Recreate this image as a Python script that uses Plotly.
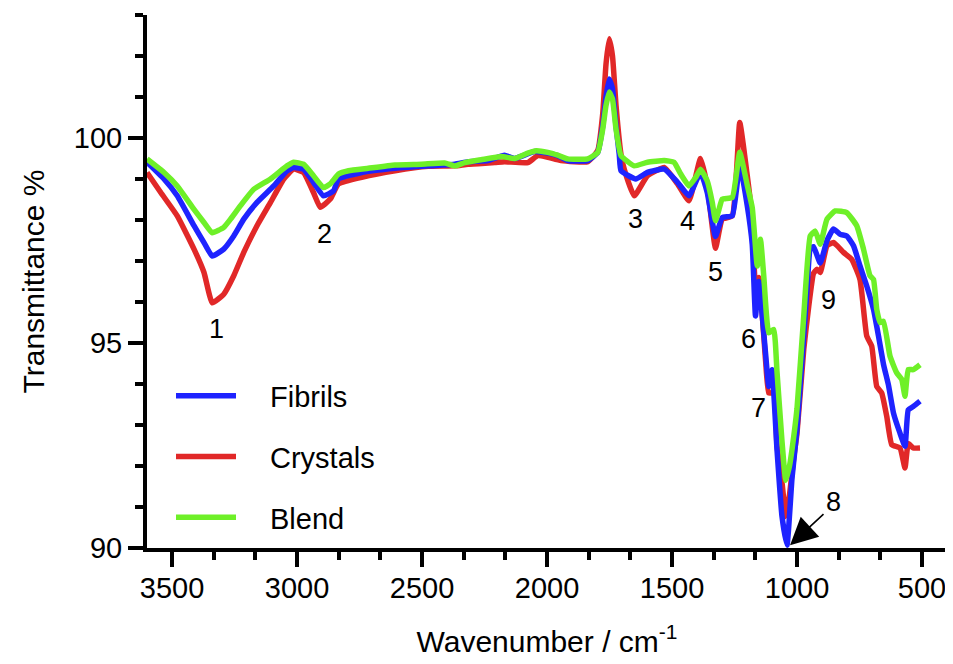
import plotly.graph_objects as go

# ---- data ----
wn_fibrils = [3600, 3532, 3479, 3412, 3372, 3339, 3293, 3253, 3213, 3160, 3093, 3040, 3014, 2974, 2934, 2894,
              2854, 2834, 2741, 2608, 2475, 2369, 2316, 2236, 2170, 2130, 2050, 1997, 1957, 1917, 1837, 1797,
              1777, 1764, 1751, 1738, 1724, 1711, 1704, 1645, 1598, 1531, 1478, 1432, 1386, 1359, 1326, 1299,
              1259, 1229, 1199, 1179, 1166, 1153, 1126, 1113, 1100, 1080, 1060, 1040, 1020, 1000, 975, 960,
              947, 934, 907, 880, 854, 827, 801, 774, 748, 721, 694, 674, 654, 634, 614, 588, 568, 555, 535, 508]
t_fibrils = [99.41, 99.00, 98.59, 97.86, 97.45, 97.12, 97.29, 97.61, 98.02, 98.43, 98.83, 99.20, 99.28, 99.24, 98.92, 98.59,
             98.71, 99.00, 99.16, 99.26, 99.32, 99.36, 99.42, 99.45, 99.58, 99.50, 99.67, 99.63, 99.57, 99.45, 99.45, 99.65,
             100.3, 101.0, 101.44, 101.2, 100.3, 99.6, 99.2, 99.00, 99.16, 99.24, 98.92, 98.59, 99.16, 98.67, 97.6, 98.06,
             98.10, 99.35, 98.35, 97.40, 95.66, 96.5, 94.76, 93.94, 94.35, 92.4, 90.77, 90.07, 91.7, 92.9, 95.0, 96.3,
             97.3, 97.35, 96.95, 97.5, 97.78, 97.65, 97.61, 97.37, 96.88, 96.39, 95.82, 95.17, 94.48, 93.97, 93.29, 92.80, 92.48, 93.37, 93.45, 93.58]

wn_crystals = [3600, 3545, 3479, 3412, 3372, 3339, 3293, 3253, 3213, 3160, 3106, 3053, 3014, 2974, 2934, 2907,
               2867, 2834, 2741, 2608, 2475, 2369, 2316, 2209, 2170, 2077, 2037, 1997, 1944, 1837, 1797, 1777,
               1764, 1751, 1738, 1724, 1704, 1691, 1651, 1598, 1531, 1478, 1432, 1386, 1359, 1326, 1299, 1259,
               1229, 1199, 1179, 1166, 1153, 1126, 1113, 1093, 1080, 1060, 1045, 1030, 1013, 1000, 973, 953,
               934, 920, 907, 880, 854, 814, 781, 748, 721, 701, 681, 661, 641, 621, 588, 568, 555, 535, 508]
t_crystals = [99.16, 98.67, 98.10, 97.29, 96.72, 95.98, 96.19, 96.64, 97.21, 97.86, 98.43, 99.00, 99.24, 99.16, 98.67, 98.31,
              98.51, 98.88, 99.04, 99.20, 99.31, 99.32, 99.36, 99.40, 99.42, 99.40, 99.57, 99.53, 99.45, 99.42, 99.7, 100.6,
              101.8, 102.42, 102.0, 100.8, 99.6, 99.24, 98.59, 99.08, 99.28, 98.88, 98.47, 99.5, 98.83, 97.31, 98.02, 98.10,
              100.38, 99.08, 98.02, 96.4, 96.6, 94.6, 93.78, 93.78, 92.5, 91.6, 90.77, 91.3, 92.2, 92.8, 94.84, 95.9,
              96.7, 96.8, 96.72, 97.37, 97.45, 97.21, 97.04, 96.55, 95.17, 94.92, 93.94, 93.78, 93.21, 92.52, 92.44, 91.95, 92.55, 92.44, 92.44]

wn_blend = [3600, 3532, 3479, 3412, 3372, 3339, 3293, 3266, 3226, 3173, 3106, 3040, 3014, 2974, 2934, 2894,
            2867, 2834, 2794, 2715, 2608, 2502, 2409, 2369, 2329, 2263, 2183, 2130, 2077, 2043, 1997, 1957,
            1917, 1837, 1797, 1777, 1764, 1751, 1738, 1724, 1704, 1651, 1598, 1531, 1492, 1465, 1432, 1405,
            1386, 1359, 1339, 1326, 1312, 1299, 1259, 1229, 1199, 1179, 1159, 1146, 1133, 1113, 1093, 1080,
            1060, 1045, 1030, 1020, 1000, 973, 947, 927, 907, 880, 847, 801, 761, 734, 708, 694,
            681, 668, 654, 628, 601, 581, 568, 555, 535, 508]
t_blend = [99.49, 99.16, 98.83, 98.26, 97.94, 97.69, 97.82, 98.02, 98.35, 98.75, 99.00, 99.32, 99.41, 99.36, 99.08, 98.79,
           98.88, 99.12, 99.20, 99.26, 99.34, 99.36, 99.39, 99.32, 99.40, 99.47, 99.55, 99.50, 99.63, 99.69, 99.65, 99.58,
           99.49, 99.49, 99.65, 100.22, 100.79, 101.12, 100.95, 100.22, 99.57, 99.32, 99.41, 99.45, 99.41, 99.12, 98.83, 99.04,
           99.24, 98.95, 98.43, 97.98, 98.26, 98.51, 98.55, 99.65, 98.85, 98.30, 96.88, 97.53, 96.64, 95.25, 95.33, 94.3,
           92.6, 91.65, 92.0, 92.4, 93.4, 95.66, 97.61, 97.73, 97.41, 98.02, 98.22, 98.18, 97.86, 97.29, 96.64, 96.55,
           95.82, 95.50, 95.53, 94.68, 94.27, 94.11, 93.70, 94.35, 94.35, 94.47]

peak_labels = ["1", "2", "3", "4", "5", "6", "7", "8", "9"]
peak_label_wn = [3321, 2890, 1646, 1439, 1327, 1193, 1153, 854, 874]
peak_label_t = [95.33, 97.65, 98.02, 97.98, 96.72, 95.09, 93.42, 91.13, 96.06]

arrow_tip = (1028, 90.07)
arrow_tail = (888, 90.86)

x_ticks = [3500, 3000, 2500, 2000, 1500, 1000, 500]
y_ticks = [90, 95, 100]

# ---- figure ----
FONT = "Liberation Sans, Arial, Helvetica, sans-serif"
BLUE = "rgb(30,35,255)"
RED = "rgb(225,40,40)"
GREEN = "rgb(110,240,40)"
GAP = "\u2002\u2002"  # space between legend line and its label

fig = go.Figure()
series = [
    ("Crystals", wn_crystals, t_crystals, RED, 2),
    ("Fibrils", wn_fibrils, t_fibrils, BLUE, 1),
    ("Blend", wn_blend, t_blend, GREEN, 3),
]
for name, xs, ys, col, rank in series:
    fig.add_trace(go.Scatter(
        x=xs, y=ys, mode="lines", name=GAP + name,
        line=dict(color=col, width=5.5, shape="spline", smoothing=0.4),
        legendrank=rank, legendgroup=name,
    ))

for lab, xw, yt in zip(peak_labels, peak_label_wn, peak_label_t):
    fig.add_annotation(x=xw, y=yt, text=lab, showarrow=False,
                       font=dict(family=FONT, size=27, color="black"))

fig.add_annotation(x=arrow_tip[0], y=arrow_tip[1], ax=arrow_tail[0], ay=arrow_tail[1],
                   axref="x", ayref="y", xref="x", yref="y", text="",
                   showarrow=True, arrowhead=2, arrowsize=3.4, arrowwidth=1.6,
                   arrowcolor="black", standoff=0)

# the page body adds an 8px offset, so the figure is 8px smaller than the window
fig.update_layout(
    width=945, height=656,
    margin=dict(l=139, r=6, t=7, b=116),
    paper_bgcolor="white", plot_bgcolor="white",
    font=dict(family=FONT, size=30, color="black"),
    showlegend=True,
    legend=dict(x=0.03, y=0.333, xanchor="left", yanchor="top",
                font=dict(family=FONT, size=29, color="black"),
                bgcolor="rgba(0,0,0,0)", tracegroupgap=20, itemwidth=60,
                traceorder="grouped"),
)
fig.update_xaxes(
    range=[3600, 400], autorange=False,
    tickmode="array", tickvals=x_ticks, ticktext=[str(v) for v in x_ticks],
    ticks="outside", ticklen=15, tickwidth=4, tickcolor="black",
    showline=True, linewidth=4, linecolor="black", showgrid=False, zeroline=False,
    tickfont=dict(family=FONT, size=29, color="black"),
    minor=dict(tickmode="linear", tick0=500, dtick=500 / 3, ticks="outside",
               ticklen=8, tickwidth=4, tickcolor="black", showgrid=False),
    title=dict(text="Wavenumber / cm<sup>-1</sup>", font=dict(family=FONT, size=30, color="black"), standoff=29),
    ticklabelstandoff=-4,
)
fig.update_yaxes(
    range=[90, 103], autorange=False,
    tickmode="array", tickvals=y_ticks, ticktext=[str(v) for v in y_ticks],
    ticks="outside", ticklen=15, tickwidth=4, tickcolor="black",
    showline=True, linewidth=4, linecolor="black", showgrid=False, zeroline=False,
    tickfont=dict(family=FONT, size=29, color="black"),
    minor=dict(tickmode="linear", tick0=90, dtick=1, ticks="outside",
               ticklen=8, tickwidth=4, tickcolor="black", showgrid=False),
    title=dict(text="Transmittance %", font=dict(family=FONT, size=30, color="black"), standoff=21),
)

fig.write_html("out.html")
